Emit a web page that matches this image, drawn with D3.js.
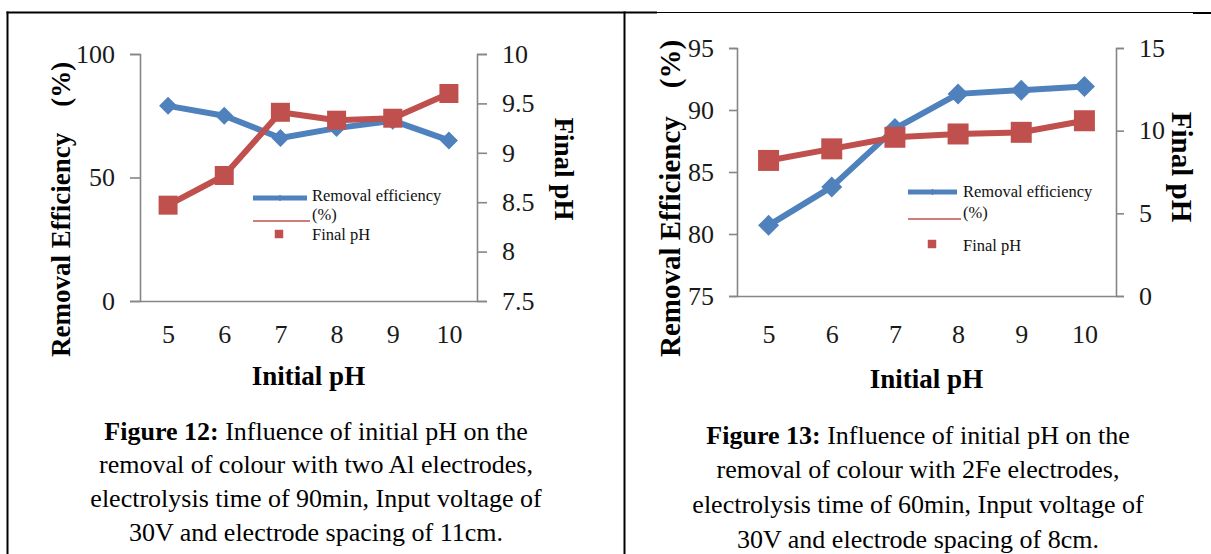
<!DOCTYPE html>
<html>
<head>
<meta charset="utf-8">
<script src="https://cdn.jsdelivr.net/npm/d3@7"></script>
<style>
  html, body { margin: 0; padding: 0; background: #fff; }
  svg { display: block; }
  text { font-family: "Liberation Serif", "Times New Roman", Times, serif; }
</style>
</head>
<body>
<svg id="fig" width="1211" height="554"></svg>
<script>
// ---- data ----
const initialPH = [5, 6, 7, 8, 9, 10];

// Figure 12: two Al electrodes
const alRemoval = [79, 75, 66, 70, 73, 65];
const alFinalPH = [8.47, 8.77, 9.41, 9.33, 9.35, 9.6];
const alLeftTicks = [0, 50, 100];
const alRightTicks = [7.5, 8, 8.5, 9, 9.5, 10];

// Figure 13: 2Fe electrodes
const feRemoval = [80.7, 83.8, 88.5, 91.3, 91.6, 91.9];
const feFinalPH = [8.2, 8.9, 9.6, 9.8, 9.9, 10.6];
const feLeftTicks = [75, 80, 85, 90, 95];
const feRightTicks = [0, 5, 10, 15];

const legendLabels = ["Removal efficiency", "(%)", "Final pH"];
const xTitle = "Initial pH";
const yLeftTitle = "Removal Efficiency";
const yLeftUnit = "(%)";
const yRightTitle = "Final pH";

const caption12 = [
  ["Figure 12:", " Influence of initial pH on the"],
  ["", "removal of colour with two Al electrodes,"],
  ["", "electrolysis time of 90min, Input voltage of"],
  ["", "30V and electrode spacing of 11cm."]
];
const caption13 = [
  ["Figure 13:", " Influence of initial pH on the"],
  ["", "removal of colour with 2Fe electrodes,"],
  ["", "electrolysis time of 60min, Input voltage of"],
  ["", "30V and electrode spacing of 8cm."]
];

// ---- styling ----
const BLUE = "#4F81BD";
const RED = "#C0504D";
const AXIS = "#868686";
const svg = d3.select("#fig");

// ---- table rules framing the two figures ----
const rules = svg.append("g").attr("stroke", "#000");
rules.append("line").attr("x1", 7.5).attr("x2", 7.5).attr("y1", 11.5).attr("y2", 554).attr("stroke-width", 2);
rules.append("line").attr("x1", 624.5).attr("x2", 624.5).attr("y1", 11.5).attr("y2", 554).attr("stroke-width", 2);
rules.append("line").attr("x1", 6.5).attr("x2", 657).attr("y1", 12.5).attr("y2", 12.5).attr("stroke-width", 2);
rules.append("line").attr("x1", 657).attr("x2", 1193).attr("y1", 12.5).attr("y2", 12.5).attr("stroke-width", 1);
rules.append("line").attr("x1", 1193).attr("x2", 1211).attr("y1", 13).attr("y2", 13).attr("stroke-width", 2);

function drawPanel(cfg) {
  const g = svg.append("g");
  const x = d3.scalePoint().domain(initialPH).range([cfg.left, cfg.right]).padding(0.5);
  const yL = d3.scaleLinear().domain(cfg.leftDomain).range([cfg.bottom, cfg.top]);
  const yR = d3.scaleLinear().domain(cfg.rightDomain).range([cfg.bottom, cfg.top]);

  // left axis
  const ax = g.append("g").attr("transform", `translate(${cfg.left},0)`)
    .call(d3.axisLeft(yL).tickValues(cfg.leftTicks).tickSize(cfg.tick).tickPadding(15).tickFormat(d => String(d)));
  // right axis
  const ar = g.append("g").attr("transform", `translate(${cfg.right},0)`)
    .call(d3.axisRight(yR).tickValues(cfg.rightTicks).tickSize(cfg.tick).tickPadding(15).tickFormat(d => String(d)));
  // category axis
  const ab = g.append("g").attr("transform", `translate(0,${cfg.bottom})`)
    .call(d3.axisBottom(x).tickSize(0));
  ab.selectAll("text").attr("y", 343 - cfg.bottom).attr("dy", null);

  [ax, ar, ab].forEach(a => {
    a.select(".domain").attr("stroke", AXIS).attr("stroke-width", 1.6);
    a.selectAll(".tick line").attr("stroke", AXIS).attr("stroke-width", 1.6);
    a.selectAll("text").attr("font-size", 26).attr("fill", "#1a1a1a")
      .style("font-family", '"Liberation Serif", "Times New Roman", serif');
  });

  // removal efficiency series
  const line = d3.line();
  const rem = cfg.removal.map((v, i) => [x(initialPH[i]), yL(v)]);
  const fph = cfg.finalPH.map((v, i) => [x(initialPH[i]), yR(v)]);
  g.append("path").attr("d", line(rem)).attr("fill", "none")
    .attr("stroke", BLUE).attr("stroke-width", 6).attr("stroke-linejoin", "round");
  const dSide = cfg.diamond / Math.SQRT2;
  g.selectAll(".dia").data(rem).join("path")
    .attr("d", d3.symbol(d3.symbolSquare, dSide * dSide)())
    .attr("transform", d => `translate(${d[0]},${d[1]}) rotate(45)`)
    .attr("fill", BLUE);

  // final pH series
  g.append("path").attr("d", line(fph)).attr("fill", "none")
    .attr("stroke", RED).attr("stroke-width", 6).attr("stroke-linejoin", "round");
  g.selectAll(".sq").data(fph).join("path")
    .attr("d", d3.symbol(d3.symbolSquare, cfg.square * cfg.square)())
    .attr("transform", d => `translate(${d[0]},${d[1]})`)
    .attr("fill", RED);

  // axis titles
  g.append("text").attr("x", (cfg.left + cfg.right) / 2).attr("y", cfg.xTitleY)
    .attr("text-anchor", "middle").attr("font-size", 27).attr("font-weight", "bold")
    .text(xTitle);
  const lt = g.append("text")
    .attr("transform", `translate(${cfg.yTitleX},357) rotate(-90)`)
    .attr("font-size", cfg.yTitleSize).attr("font-weight", "bold");
  lt.append("tspan").text(yLeftTitle);
  lt.append("tspan").attr("dx", cfg.unitGap).text(yLeftUnit);
  g.append("text")
    .attr("transform", `translate(${cfg.rTitleX},${cfg.rTitleY}) rotate(90)`)
    .attr("text-anchor", "middle").attr("font-size", cfg.yTitleSize).attr("font-weight", "bold")
    .text(yRightTitle);

  // legend
  const lg = g.append("g").attr("font-size", 16.5);
  const L = cfg.legend;
  lg.append("line").attr("x1", L.x0).attr("x2", L.x0 + L.blueLen).attr("y1", L.blueY).attr("y2", L.blueY)
    .attr("stroke", BLUE).attr("stroke-width", 5);
  lg.append("path").attr("d", d3.symbol(d3.symbolSquare, 22)())
    .attr("transform", `translate(${L.x0 + L.blueLen / 2},${L.blueY}) rotate(45)`).attr("fill", BLUE);
  lg.append("line").attr("x1", L.x0).attr("x2", L.x0 + L.redLen).attr("y1", L.redY).attr("y2", L.redY)
    .attr("stroke", RED).attr("stroke-width", 1.6);
  lg.append("path").attr("d", d3.symbol(d3.symbolSquare, 72)())
    .attr("transform", `translate(${L.sqX},${L.sqY})`).attr("fill", RED);
  legendLabels.forEach((t, i) => {
    lg.append("text").attr("x", L.tx).attr("y", L.ty[i]).attr("fill", "#111").text(t);
  });

  // caption
  cfg.caption.forEach((ln, i) => {
    const t = svg.append("text").attr("x", cfg.capX).attr("y", cfg.capY[i])
      .attr("text-anchor", "middle").attr("font-size", 26).attr("fill", "#000");
    if (ln[0]) t.append("tspan").attr("font-weight", "bold").text(ln[0]);
    t.append("tspan").text(ln[1]);
  });
}

drawPanel({
  left: 140, right: 477, top: 54, bottom: 301, tick: 10,
  leftDomain: [0, 100], rightDomain: [7.5, 10],
  leftTicks: alLeftTicks, rightTicks: alRightTicks,
  removal: alRemoval, finalPH: alFinalPH,
  diamond: 18, square: 19,
  xTitleY: 385, yTitleX: 70, yTitleSize: 27, unitGap: 26,
  rTitleX: 555, rTitleY: 169,
  legend: { x0: 253, blueLen: 54, redLen: 57, blueY: 198, redY: 221, sqX: 279, sqY: 234,
            tx: 312, ty: [201, 220, 240] },
  caption: caption12, capX: 316, capY: [440, 473, 507, 541]
});

drawPanel({
  left: 737, right: 1116, top: 48, bottom: 296, tick: 8,
  leftDomain: [75, 95], rightDomain: [0, 15],
  leftTicks: feLeftTicks, rightTicks: feRightTicks,
  removal: feRemoval, finalPH: feFinalPH,
  diamond: 21, square: 21,
  xTitleY: 388, yTitleX: 680, yTitleSize: 29, unitGap: 28,
  rTitleX: 1172, rTitleY: 167,
  legend: { x0: 908, blueLen: 49, redLen: 53, blueY: 192, redY: 219, sqX: 932, sqY: 244,
            tx: 963, ty: [197, 218, 251] },
  caption: caption13, capX: 918, capY: [444, 478, 513, 548]
});
</script>
</body>
</html>
